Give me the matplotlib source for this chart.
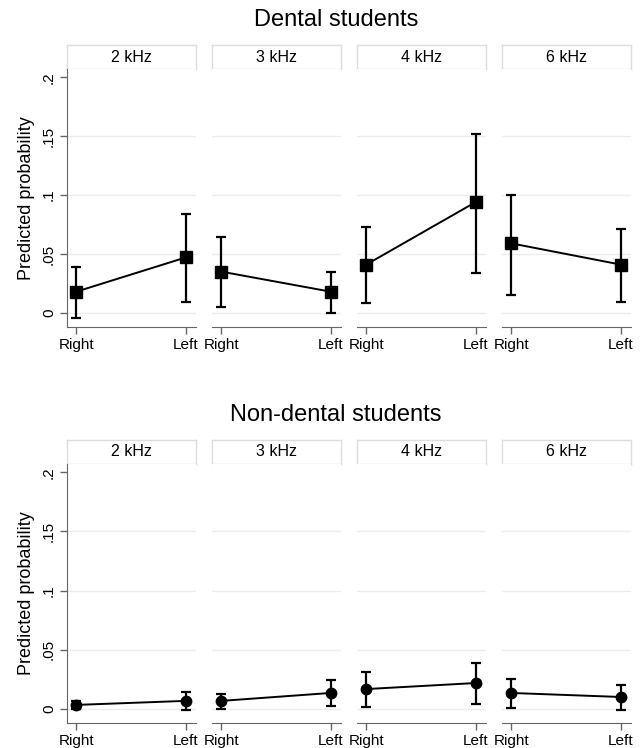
import matplotlib.pyplot as plt

plt.rcParams['font.family'] = ['Liberation Sans', 'DejaVu Sans']

freqs = ['2 kHz', '3 kHz', '4 kHz', '6 kHz']
sides = ['Right', 'Left']

# predicted probability and 95% CI, [Right, Left] per frequency
dental_p = [[0.018, 0.047], [0.035, 0.018], [0.041, 0.094], [0.059, 0.041]]
dental_lo = [[-0.004, 0.009], [0.005, 0.000], [0.008, 0.034], [0.015, 0.009]]
dental_hi = [[0.039, 0.084], [0.064, 0.035], [0.073, 0.152], [0.100, 0.071]]

nondental_p = [[0.0033, 0.0067], [0.0067, 0.0134], [0.0167, 0.0218], [0.0134, 0.0100]]
nondental_lo = [[-0.0005, -0.0008], [0.0000, 0.0025], [0.0017, 0.0042], [0.0008, -0.0008]]
nondental_hi = [[0.0067, 0.0142], [0.0125, 0.0243], [0.0310, 0.0385], [0.0250, 0.0200]]

yticks = [0, 0.05, 0.1, 0.15, 0.2]
ytick_labels = ['0', '.05', '.1', '.15', '.2']

W, H = 642, 748
fig = plt.figure(figsize=(W / 100, H / 100), dpi=100)
panel_x = [67, 212, 357, 502]
panel_w = 129
axcol = '#666666'


def draw_group(title, title_y, strip_top, ax_top, ax_bot, p, lo, hi, marker, ms):
    fig.text(336 / W, 1 - title_y / H, title, ha='center', va='center', fontsize=17)
    for i, f in enumerate(freqs):
        x0 = panel_x[i]
        # strip
        sax = fig.add_axes([x0 / W, 1 - ax_top / H, panel_w / W, (ax_top - strip_top) / H])
        sax.set_xticks([])
        sax.set_yticks([])
        for s in sax.spines.values():
            s.set_color('#dddddd')
            s.set_linewidth(1.0)
        sax.text(0.5, 0.5, f, ha='center', va='center', fontsize=11.5, transform=sax.transAxes)

        ax = fig.add_axes([x0 / W, 1 - ax_bot / H, panel_w / W, (ax_bot - ax_top) / H])
        xs = [1, 2]
        yerr = [[p[i][k] - lo[i][k] for k in range(2)], [hi[i][k] - p[i][k] for k in range(2)]]
        ax.errorbar(xs, p[i], yerr=yerr, fmt='none', ecolor='black', elinewidth=1.6,
                    capsize=3.5, capthick=1.6, zorder=3)
        ax.plot(xs, p[i], color='black', lw=1.4, marker=marker, ms=ms, zorder=4)
        ax.set_xlim(0.915, 2.095)
        ax.set_ylim(-0.012, 0.207)
        for g in yticks[:-1]:
            ax.axhline(g, color='#ececec', lw=1.0, zorder=1)
        ax.set_xticks(xs)
        ax.set_xticklabels(sides, fontsize=11)
        ax.spines['top'].set_visible(False)
        ax.spines['right'].set_visible(False)
        ax.spines['bottom'].set_color(axcol)
        ax.tick_params(axis='x', colors=axcol, length=5, width=1.0, labelcolor='black', pad=3)
        if i == 0:
            ax.spines['left'].set_color(axcol)
            ax.set_yticks(yticks)
            ax.set_yticklabels(ytick_labels, fontsize=11, rotation=90, va='center')
            ax.tick_params(axis='y', colors=axcol, length=5, width=1.0, labelcolor='black', pad=3)
            ax.set_ylabel('Predicted probability', fontsize=13, labelpad=5)
        else:
            ax.spines['left'].set_visible(False)
            ax.set_yticks([])


draw_group('Dental students', 20, 45, 69, 327, dental_p, dental_lo, dental_hi, 's', 8)
draw_group('Non-dental students', 415, 440, 464, 723, nondental_p, nondental_lo, nondental_hi, 'o', 7.5)

fig.savefig('out.png', dpi=100)
